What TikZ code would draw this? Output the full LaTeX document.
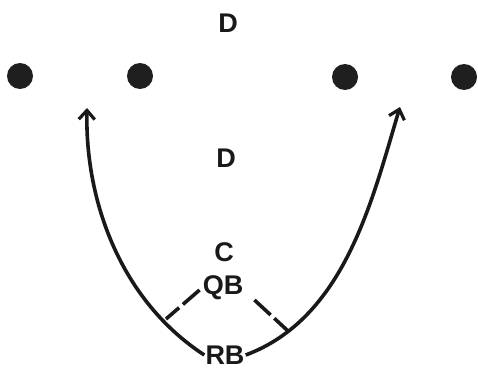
\documentclass[tikz,border=0pt]{standalone}
\usepackage{fontspec}
\setmainfont{Liberation Sans}
\usetikzlibrary{arrows.meta}
\begin{document}
\begin{tikzpicture}[x=1pt,y=-1pt,
  lbl/.style={font=\fontsize{27}{27}\selectfont\bfseries, text=black!90, inner sep=1pt},
  player/.style={circle, fill=black!88, minimum size=26pt, inner sep=0pt},
  route/.style={line width=3.6pt, black!90, -{Straight Barb[length=9pt,width=16pt,line width=3.2pt]}},
  block/.style={line width=3.6pt, black!90, dash pattern=on 22pt off 5pt}]
\useasboundingbox (0,0) rectangle (478,369);
\node[player] (p1) at (20,76) {};
\node[player] (p2) at (140,76) {};
\node[player] (p3) at (345,77) {};
\node[player] (p4) at (464,77) {};
\node[lbl] (d1) at (228,23) {D};
\node[lbl] (d2) at (226,158) {D};
\node[lbl] (c) at (224,252) {C};
\node[lbl] (qb) at (223,288) {QB};
\node[lbl] (rb) at (225,355) {RB};
\coordinate (lt) at (87,108);
\coordinate (rt) at (400,107);
\coordinate (lb) at (166,319);
\coordinate (rbk) at (288,331);
\draw[route] (rb.west) .. controls (120,300) and (85,200) .. (lt);
\draw[route] (rb.east) .. controls (345,318) and (372,200) .. (rt);
\draw[block] (qb.west) ++(-2,2) -- (lb);
\draw[block] (qb.east) ++(10,12) -- (rbk);
\end{tikzpicture}
\end{document}
